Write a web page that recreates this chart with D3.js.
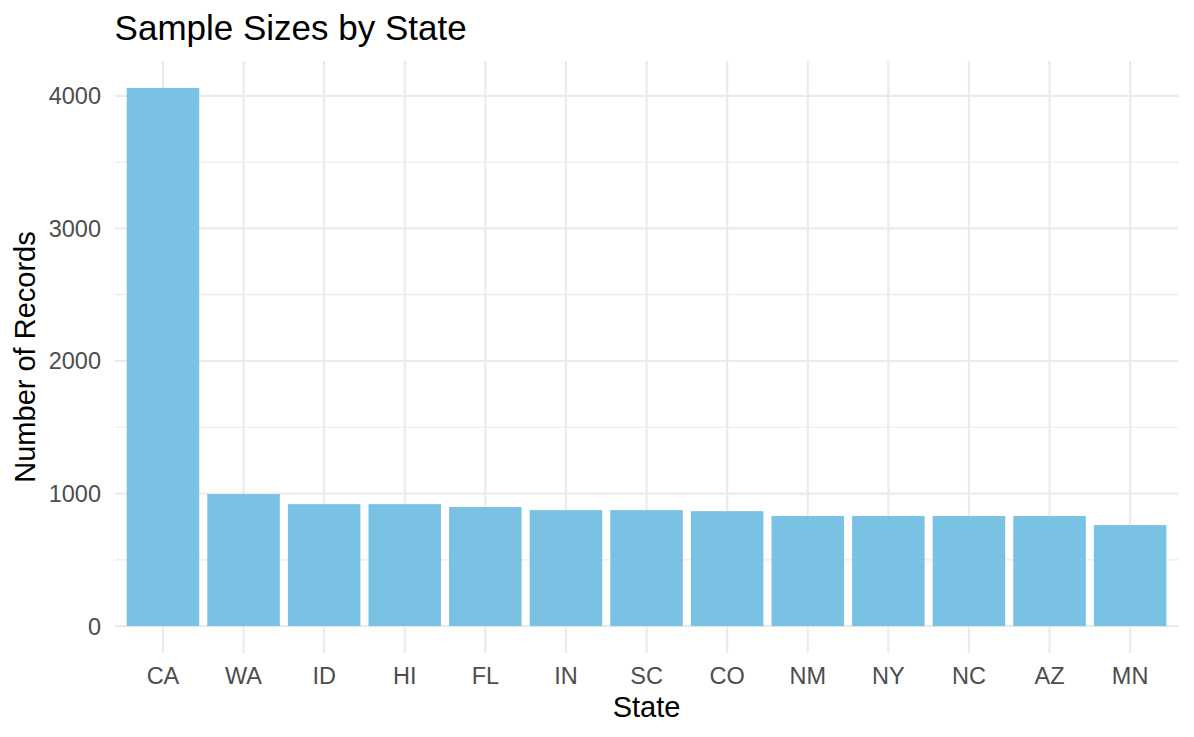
<!DOCTYPE html>
<html>
<head>
<meta charset="utf-8">
<script src="https://cdn.jsdelivr.net/npm/d3@7"></script>
<style>
  body { margin: 0; background: #fff; }
  svg { display: block; font-family: "Liberation Sans", Arial, Helvetica, sans-serif; }
</style>
</head>
<body>
<svg width="1194" height="737"></svg>
<script>
const states = ["CA", "WA", "ID", "HI", "FL", "IN", "SC", "CO", "NM", "NY", "NC", "AZ", "MN"];
const records = [4060, 996, 920, 920, 898, 875, 875, 867, 830, 830, 830, 830, 762];
const majorTicks = [0, 1000, 2000, 3000, 4000];
const minorTicks = [500, 1500, 2500, 3500];

const svg = d3.select("svg");

const panel = { left: 114.6, right: 1178.5, top: 61, bottom: 653 };
const maxVal = d3.max(records);

const x = d3.scaleBand()
    .domain(states)
    .range([panel.left, panel.right])
    .paddingInner(0.1)
    .paddingOuter(0.15);

const y = d3.scaleLinear()
    .domain([-0.05 * maxVal, 1.05 * maxVal])
    .range([panel.bottom, panel.top]);

const grid = svg.append("g");

// minor grid
grid.selectAll(".minor")
    .data(minorTicks)
    .enter().append("line")
    .attr("x1", panel.left).attr("x2", panel.right)
    .attr("y1", d => y(d)).attr("y2", d => y(d))
    .attr("stroke", "#EBEBEB")
    .attr("stroke-width", 1.2);

// major grid
grid.selectAll(".major")
    .data(majorTicks)
    .enter().append("line")
    .attr("x1", panel.left).attr("x2", panel.right)
    .attr("y1", d => y(d)).attr("y2", d => y(d))
    .attr("stroke", "#EBEBEB")
    .attr("stroke-width", 2.2);

grid.selectAll(".vert")
    .data(states)
    .enter().append("line")
    .attr("x1", d => x(d) + x.bandwidth() / 2)
    .attr("x2", d => x(d) + x.bandwidth() / 2)
    .attr("y1", panel.top).attr("y2", panel.bottom)
    .attr("stroke", "#EBEBEB")
    .attr("stroke-width", 2.2);

// bars
svg.append("g")
    .selectAll("rect")
    .data(states)
    .enter().append("rect")
    .attr("x", d => x(d))
    .attr("width", x.bandwidth())
    .attr("y", (d, i) => y(records[i]))
    .attr("height", (d, i) => y(0) - y(records[i]))
    .attr("fill", "#79C2E4");

// y tick labels
svg.append("g")
    .selectAll("text")
    .data(majorTicks)
    .enter().append("text")
    .attr("x", 101)
    .attr("y", d => y(d))
    .attr("dy", "0.36em")
    .attr("text-anchor", "end")
    .attr("font-size", 23.5)
    .attr("fill", "#4D4D4D")
    .text(d => d);

// x tick labels
svg.append("g")
    .selectAll("text")
    .data(states)
    .enter().append("text")
    .attr("x", d => x(d) + x.bandwidth() / 2)
    .attr("y", 684)
    .attr("text-anchor", "middle")
    .attr("font-size", 23.5)
    .attr("fill", "#4D4D4D")
    .text(d => d);

// axis titles
svg.append("text")
    .attr("x", (panel.left + panel.right) / 2)
    .attr("y", 717)
    .attr("text-anchor", "middle")
    .attr("font-size", 29)
    .attr("fill", "#000")
    .text("State");

svg.append("text")
    .attr("transform", `translate(35,${(panel.top + panel.bottom) / 2}) rotate(-90)`)
    .attr("text-anchor", "middle")
    .attr("font-size", 29)
    .attr("fill", "#000")
    .text("Number of Records");

// title
svg.append("text")
    .attr("x", panel.left)
    .attr("y", 40)
    .attr("font-size", 35)
    .attr("fill", "#000")
    .text("Sample Sizes by State");
</script>
</body>
</html>
